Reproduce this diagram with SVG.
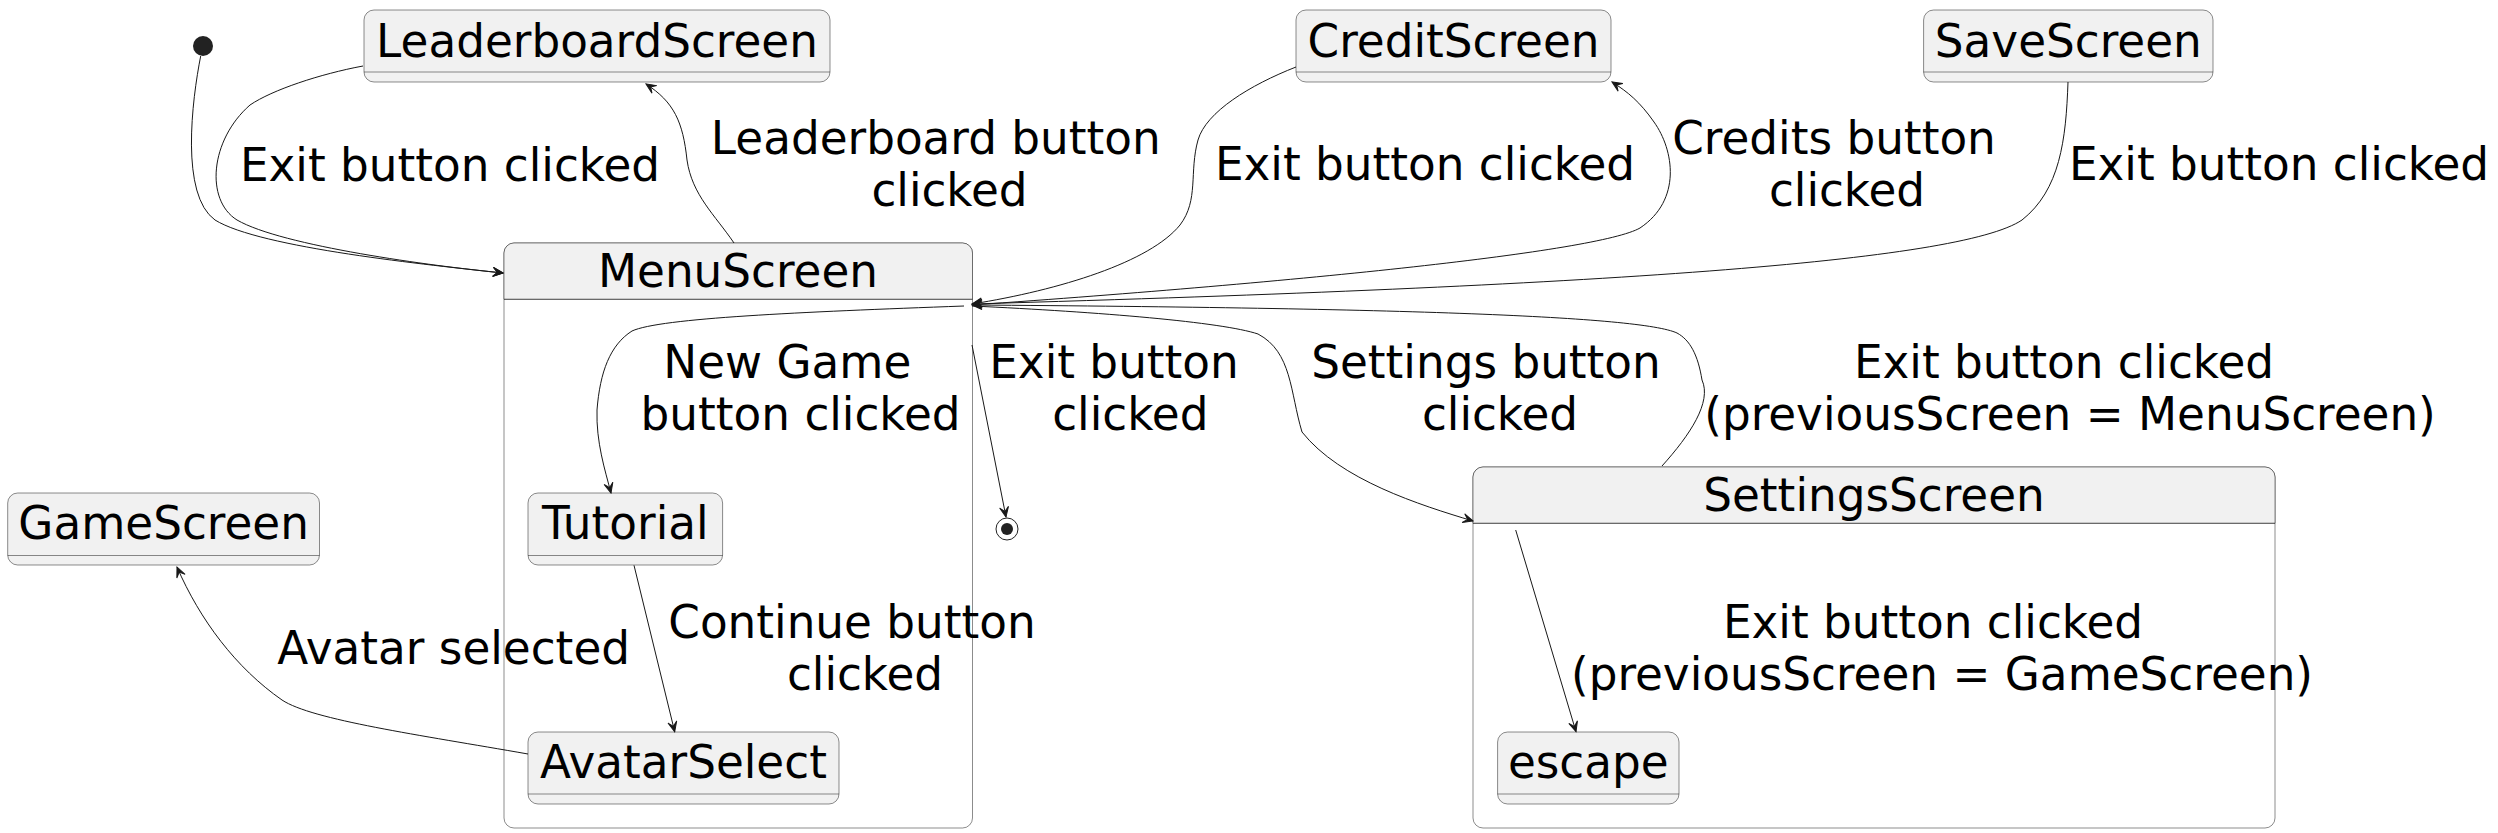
<svg xmlns="http://www.w3.org/2000/svg" width="2498" height="833" viewBox="0 0 2498 833">
<defs>
<style>
text{font-family:"DejaVu Sans","Liberation Sans",sans-serif;font-size:45.3px;fill:#000;text-anchor:middle}
.st{fill:#F1F1F1;stroke:#181818;stroke-width:0.5}
.body{fill:#FFFFFF;stroke:#181818;stroke-width:0.5}
.sep{stroke:#181818;stroke-width:0.5;fill:none}
.e{fill:none;stroke:#181818;stroke-width:1;marker-end:url(#ah)}
</style>
<marker id="ah" viewBox="-11 -6 12 12" refX="0" refY="0" markerWidth="12" markerHeight="12" markerUnits="userSpaceOnUse" orient="auto">
<path d="M0,0 L-10,-4.5 L-5.5,0 L-10,4.5 Z" fill="#181818" stroke="#181818" stroke-width="1"/>
</marker>
</defs>
<rect width="2498" height="833" fill="#FFFFFF"/>

<g id="MenuScreen">
<rect class="body" x="504" y="243" width="468.5" height="585" rx="10" ry="10"/>
<path class="st" d="M504,299.3 V253 A10,10 0 0 1 514,243 H962.5 A10,10 0 0 1 972.5,253 V299.3 Z"/>
<line class="sep" x1="504" y1="299.3" x2="972.5" y2="299.3"/>
<text x="738" y="287">MenuScreen</text>
</g>

<g id="SettingsScreen">
<rect class="body" x="1473" y="467" width="802" height="361" rx="10" ry="10"/>
<path class="st" d="M1473,523.3 V477 A10,10 0 0 1 1483,467 H2265 A10,10 0 0 1 2275,477 V523.3 Z"/>
<line class="sep" x1="1473" y1="523.3" x2="2275" y2="523.3"/>
<text x="1874" y="510.7">SettingsScreen</text>
</g>

<g id="initial">
<circle cx="203" cy="46" r="10" fill="#222222"/>
</g>

<g id="final">
<circle cx="1007" cy="529" r="11" fill="none" stroke="#222222" stroke-width="1"/>
<circle cx="1007" cy="529" r="6" fill="#222222"/>
</g>

<g id="LeaderboardScreen">
<rect class="st" x="364" y="10" width="466" height="72" rx="10" ry="10"/>
<line class="sep" x1="364" y1="72" x2="830" y2="72"/>
<text x="597" y="57">LeaderboardScreen</text>
</g>

<g id="CreditScreen">
<rect class="st" x="1296" y="10" width="315" height="72" rx="10" ry="10"/>
<line class="sep" x1="1296" y1="72" x2="1611" y2="72"/>
<text x="1453.5" y="57">CreditScreen</text>
</g>

<g id="SaveScreen">
<rect class="st" x="1923.6" y="10" width="289.4" height="72" rx="10" ry="10"/>
<line class="sep" x1="1923.6" y1="72" x2="2213" y2="72"/>
<text x="2068.3" y="57">SaveScreen</text>
</g>

<g id="GameScreen">
<rect class="st" x="7.7" y="493" width="311.8" height="72" rx="10" ry="10"/>
<line class="sep" x1="7.7" y1="555.5" x2="319.5" y2="555.5"/>
<text x="163.6" y="539.3">GameScreen</text>
</g>

<g id="Tutorial">
<rect class="st" x="528" y="493" width="194.6" height="72" rx="10" ry="10"/>
<line class="sep" x1="528" y1="555.5" x2="722.6" y2="555.5"/>
<text x="625.3" y="539.3">Tutorial</text>
</g>

<g id="AvatarSelect">
<rect class="st" x="528" y="732" width="311" height="72" rx="10" ry="10"/>
<line class="sep" x1="528" y1="794" x2="839" y2="794"/>
<text x="683.5" y="778.3">AvatarSelect</text>
</g>

<g id="escape">
<rect class="st" x="1497.6" y="732" width="181.4" height="72" rx="10" ry="10"/>
<line class="sep" x1="1497.6" y1="794" x2="1679" y2="794"/>
<text x="1588.3" y="778.3">escape</text>
</g>

<g id="connectors">
<path class="e" d="M200.7,56 C192,100 180,195 215,220 C260,248 430,265 503,273"/>
<path class="e" d="M363,66 C320,74 272,90 250,105 C210,140 205,200 237,220 C282,246 432,266 503,273"/>
<path class="e" d="M734,243 C715,215 692,195 687,160 C683,122 674,102 646,84"/>
<path class="e" d="M1296,67 C1250,85 1206,112 1198,140 C1189,172 1199,200 1180,225 C1150,262 1060,290 972,304"/>
<path class="e" d="M972,305 C1300,282 1598,252 1640,228 C1682,200 1674,150 1654,122 C1640,102 1628,92 1612,82"/>
<path class="e" d="M2068,82 C2066,140 2060,190 2022,220 C1960,262 1600,286 972,304"/>
<path class="e" d="M972,306 C1100,312 1222,322 1258,334 C1292,352 1290,392 1302,432 C1340,480 1420,505 1473,521"/>
<path class="e" d="M1662,466 C1690,435 1712,402 1702,380 C1698,355 1690,340 1677,333 C1640,316 1400,308 972,305"/>
<path class="e" d="M972,345 L1006,517"/>
<path class="e" d="M964,306 C800,312 660,318 632,331 C610,345 600,372 597,410 C596,442 605,470 611,493"/>
<path class="e" d="M634,565.3 L674.7,731.7"/>
<path class="e" d="M528,754 C420,735 312,720 282,700 C236,668 200,620 177,567"/>
<path class="e" d="M1515.7,530 L1576,731.7"/>
</g>

<g id="labels">
<text x="450" y="181">Exit button clicked</text>
<text x="935.8" y="154">Leaderboard button</text>
<text x="949.5" y="206">clicked</text>
<text x="1425" y="180">Exit button clicked</text>
<text x="1834" y="154">Credits button</text>
<text x="1847" y="206">clicked</text>
<text x="2279" y="180">Exit button clicked</text>
<text x="787.3" y="378">New Game</text>
<text x="800.6" y="430">button clicked</text>
<text x="1114" y="378">Exit button</text>
<text x="1130.3" y="430">clicked</text>
<text x="1486" y="378">Settings button</text>
<text x="1500" y="430">clicked</text>
<text x="2064" y="378">Exit button clicked</text>
<text x="2070" y="430">(previousScreen = MenuScreen)</text>
<text x="453.7" y="664">Avatar selected</text>
<text x="852" y="638">Continue button</text>
<text x="865" y="690">clicked</text>
<text x="1933" y="638">Exit button clicked</text>
<text x="1942" y="690">(previousScreen = GameScreen)</text>
</g>
</svg>
